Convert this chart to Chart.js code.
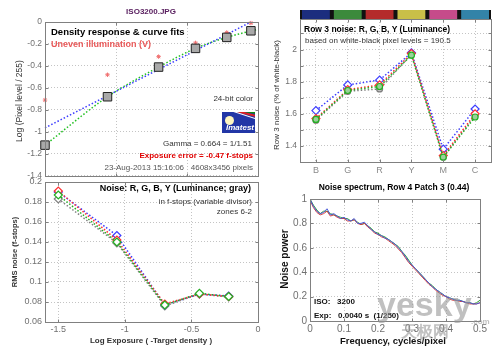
<!DOCTYPE html>
<html>
<head>
<meta charset="utf-8">
<script src="https://cdn.jsdelivr.net/npm/chart.js@4.4.0/dist/chart.umd.min.js"></script>
<style>
  body { margin: 0; background: #fff; }
  #fig { position: relative; width: 500px; height: 353px; overflow: hidden; font-family: "Liberation Sans", Arial, sans-serif; background: #fff; }
  #fig canvas { position: absolute; }
  .t { position: absolute; white-space: pre; line-height: 1; color: #333; }
  .b { font-weight: bold; }
  .c { transform: translateX(-50%); }
  .rot { transform: translate(-50%, -50%) rotate(-90deg); }
  #logo { position: absolute; left: 222px; top: 112px; width: 33px; height: 21px; background: #2236a6; overflow: hidden; }
  #logo .sun { position: absolute; left: 3px; top: 4px; width: 9px; height: 9px; border-radius: 50%; background: #fff6c0; }
  #logo .g { position: absolute; left: 8px; top: -6px; width: 40px; height: 7px; background: #108a10; transform: rotate(8deg); }
  #logo .rd { position: absolute; left: 10px; top: 2px; width: 40px; height: 2px; background: #e02020; transform: rotate(14deg); }
  #logo .w { position: absolute; left: 10px; top: 5px; width: 40px; height: 1px; background: #fff; transform: rotate(18deg); }
  #logo .txt { position: absolute; right: 1px; bottom: 1px; font: italic bold 8px "Liberation Sans", Arial, sans-serif; color: #fff; }
  .wm { position: absolute; white-space: pre; line-height: 1; color: rgba(150,150,150,0.6); font-weight: bold; }
</style>
</head>
<body>
<div id="fig">
  <canvas id="c1" width="270" height="184" style="left:0;top:0"></canvas>
  <canvas id="c2" width="238" height="180" style="left:262px;top:0"></canvas>
  <canvas id="c3" width="270" height="181" style="left:0;top:172px"></canvas>
  <canvas id="c4" width="238" height="173" style="left:262px;top:180px"></canvas>

  <div class="t b c" style="left:151px;top:8px;font-size:8px;color:#5a2060">ISO3200.JPG</div>

  <div class="t b" style="left:51px;top:27px;font-size:9.5px;color:#000">Density response &amp; curve fits</div>
  <div class="t b" style="left:51px;top:40px;font-size:9px;color:#e85858">Uneven illumination (V)</div>
  <div class="t" style="right:247px;top:95px;font-size:8px">24-bit color</div>
  <div id="logo"><div class="g"></div><div class="rd"></div><div class="w"></div><div class="sun"></div><div class="txt">Imatest</div></div>
  <div class="t" style="right:248px;top:140px;font-size:8px">Gamma = 0.664 = 1/1.51</div>
  <div class="t b" style="right:247px;top:152px;font-size:8px;color:#e00000">Exposure error = -0.47 f-stops</div>
  <div class="t" style="right:247px;top:164px;font-size:8px;color:#555">23-Aug-2013 15:16:06   4608x3456 pixels</div>
  <div class="t rot" style="left:19px;top:101px;font-size:8.5px">Log (Pixel level / 255)</div>

  <div class="t b" style="left:304px;top:25px;font-size:8.5px;color:#000">Row 3 noise: R, G, B, Y (Luminance)</div>
  <div class="t" style="left:305px;top:37px;font-size:8px">based on white-black pixel levels = 190.5</div>
  <div class="t rot" style="left:277px;top:95px;font-size:8px">Row 3 noise (% of white-black)</div>

  <div class="t b" style="right:249px;top:184px;font-size:9px;color:#000">Noise: R, G, B, Y (Luminance; gray)</div>
  <div class="t" style="right:248px;top:198px;font-size:8px">in f-stops (variable divisor)</div>
  <div class="t" style="right:248px;top:208px;font-size:8px">zones 6-2</div>
  <div class="t b rot" style="left:15px;top:252px;font-size:7.5px">RMS noise (f-stops)</div>
  <div class="t b c" style="left:151px;top:337px;font-size:8px">Log Exposure ( -Target density )</div>

  <div class="t b c" style="left:394px;top:183px;font-size:8.5px;color:#000">Noise spectrum, Row 4 Patch 3 (0.44)</div>
  <div class="t b rot" style="left:285px;top:259px;font-size:10px;color:#111">Noise power</div>
  <div class="t b c" style="left:393px;top:336px;font-size:9.5px;color:#111">Frequency, cycles/pixel</div>
  <div class="t b" style="left:314px;top:298px;font-size:8px;color:#111">ISO:   3200</div>
  <div class="t b" style="left:314px;top:312px;font-size:8px;color:#111">Exp:   0.0040 s  (1/250)</div>

  <div class="wm" style="left:377px;top:287px;font-size:34px">yesky</div>
  <div class="wm" style="left:401px;top:324px;font-size:16px">天极网</div>
  <div class="wm" style="left:471px;top:318px;font-size:8px">.com</div>
</div>

<script>
// density response (top left)
const densityLogExp = [-1.5, -1.06, -0.70, -0.44, -0.22, -0.05];
const densityPixel = [-1.12, -0.68, -0.41, -0.24, -0.14, -0.08];
const unevenPixel = [-0.71, -0.48, -0.315, -0.19, -0.095, -0.01];
const gammaFitExp = [-1.5, -0.05];
const gammaFitPixel = [-0.963, 0];
const curveFitExp = [-1.5, -1.06, -0.70, -0.44, -0.22, 0];
const curveFitPixel = [-1.12, -0.68, -0.41, -0.24, -0.14, -0.065];
const densityXTicks = [-1.5, -1, -0.5, 0];
const densityYTicks = [-1.4, -1.2, -1, -0.8, -0.6, -0.4, -0.2, 0];

// row 3 noise (top right)
const rowPatches = ['B', 'G', 'R', 'Y', 'M', 'C'];
const rowBarColors = ['#1c2d7e', '#3c8a3c', '#b42b2b', '#c9bf48', '#c64b8a', '#3383a8'];
const rowNoiseR = [1.57, 1.75, 1.78, 1.975, 1.34, 1.60];
const rowNoiseG = [1.565, 1.745, 1.77, 1.965, 1.33, 1.58];
const rowNoiseB = [1.62, 1.78, 1.81, 1.98, 1.38, 1.63];
const rowNoiseY = [1.56, 1.74, 1.755, 1.97, 1.33, 1.59];
const rowNoiseTicks = [1.4, 1.5, 1.6, 1.7, 1.8, 1.9, 2.0, 2.1];

// noise vs exposure (bottom left)
const zoneLogExp = [-1.5, -1.06, -0.70, -0.44, -0.22];
const zoneNoiseR = [0.191, 0.142, 0.078, 0.088, 0.0855];
const zoneNoiseG = [0.187, 0.140, 0.077, 0.0887, 0.0855];
const zoneNoiseB = [0.190, 0.1465, 0.077, 0.088, 0.086];
const zoneNoiseY = [0.183, 0.139, 0.076, 0.088, 0.085];
const zoneXTicks = [-1.5, -1, -0.5, 0];
const zoneYTicks = [0.06, 0.08, 0.1, 0.12, 0.14, 0.16, 0.18, 0.2];

// noise spectrum (bottom right)
const specFreq = [0, 0.01, 0.02, 0.03, 0.04, 0.05, 0.06, 0.07, 0.08, 0.09,
  0.10, 0.11, 0.12, 0.13, 0.14, 0.15, 0.16, 0.17, 0.18, 0.19,
  0.20, 0.21, 0.22, 0.23, 0.24, 0.25, 0.26, 0.27, 0.28, 0.29,
  0.30, 0.31, 0.32, 0.33, 0.34, 0.35, 0.36, 0.37, 0.38, 0.39,
  0.40, 0.41, 0.42, 0.43, 0.44, 0.45, 0.46, 0.47, 0.48, 0.49, 0.50];
const specB = [1.00, 0.94, 0.90, 0.88, 0.89, 0.92, 0.87, 0.88, 0.86, 0.84,
  0.85, 0.83, 0.82, 0.84, 0.80, 0.80, 0.81, 0.78, 0.75, 0.73,
  0.71, 0.70, 0.68, 0.67, 0.65, 0.63, 0.60, 0.57, 0.53, 0.49,
  0.46, 0.43, 0.40, 0.37, 0.34, 0.31, 0.28, 0.26, 0.24, 0.22,
  0.20, 0.19, 0.18, 0.17, 0.17, 0.16, 0.15, 0.15, 0.14, 0.14, 0.15];
const specR = [0.99, 0.93, 0.89, 0.87, 0.88, 0.90, 0.86, 0.87, 0.85, 0.84,
  0.84, 0.82, 0.82, 0.83, 0.80, 0.79, 0.80, 0.77, 0.75, 0.72,
  0.71, 0.69, 0.68, 0.66, 0.64, 0.62, 0.59, 0.56, 0.52, 0.48,
  0.45, 0.42, 0.39, 0.36, 0.33, 0.30, 0.28, 0.25, 0.23, 0.21,
  0.20, 0.18, 0.17, 0.17, 0.16, 0.16, 0.15, 0.14, 0.14, 0.14, 0.15];
const specG = [1.00, 0.95, 0.91, 0.88, 0.90, 0.90, 0.88, 0.87, 0.86, 0.85,
  0.84, 0.84, 0.82, 0.83, 0.81, 0.79, 0.80, 0.78, 0.76, 0.73,
  0.72, 0.70, 0.69, 0.67, 0.65, 0.63, 0.61, 0.57, 0.54, 0.50,
  0.46, 0.43, 0.40, 0.37, 0.34, 0.31, 0.29, 0.26, 0.24, 0.22,
  0.20, 0.19, 0.18, 0.17, 0.17, 0.16, 0.15, 0.15, 0.14, 0.15, 0.17];
const specXTicks = [0, 0.1, 0.2, 0.3, 0.4, 0.5];
const specYTicks = [0, 0.2, 0.4, 0.6, 0.8, 1];

Chart.defaults.font.family = '"Liberation Sans", Arial, sans-serif';
Chart.defaults.font.size = 8.5;
Chart.defaults.color = '#707070';
Chart.defaults.animation = false;
Chart.defaults.responsive = false;
Chart.defaults.plugins.legend.display = false;
Chart.defaults.plugins.tooltip.enabled = false;

const pts = (xs, ys) => xs.map((x, i) => ({ x, y: ys[i] }));
const fmt = v => String(+v.toFixed(2));
const DOT = [1.5, 2];

// box round the plot area, with small inward ticks
const framePlugin = {
  id: 'frame',
  afterDraw(chart) {
    const { ctx, chartArea: a, scales } = chart;
    const L = Math.round(a.left) + 0.5, R = Math.round(a.right) + 0.5;
    const T = Math.round(a.top) + 0.5, B = Math.round(a.bottom) + 0.5;
    ctx.save();
    ctx.strokeStyle = '#808080';
    ctx.lineWidth = 1;
    ctx.strokeRect(L, T, R - L, B - T);
    ctx.beginPath();
    scales.x.ticks.forEach((t, i) => {
      const px = Math.round(scales.x.getPixelForTick(i)) + 0.5;
      ctx.moveTo(px, B); ctx.lineTo(px, B - 3);
      ctx.moveTo(px, T); ctx.lineTo(px, T + 3);
    });
    scales.y.ticks.forEach((t, i) => {
      const py = Math.round(scales.y.getPixelForTick(i)) + 0.5;
      ctx.moveTo(L, py); ctx.lineTo(L + 3, py);
      ctx.moveTo(R, py); ctx.lineTo(R - 3, py);
    });
    ctx.stroke();
    ctx.restore();
  }
};

// patch colour strip above the row noise plot
const colorBarPlugin = {
  id: 'colorBar',
  afterDraw(chart) {
    const { ctx, chartArea: a, scales } = chart;
    const w = (a.right - a.left) / rowPatches.length;
    ctx.save();
    ctx.fillStyle = '#111';
    ctx.fillRect(a.left, a.top - 9, a.right - a.left, 9);
    rowPatches.forEach((p, i) => {
      const cx = scales.x.getPixelForTick(i);
      ctx.fillStyle = rowBarColors[i];
      ctx.fillRect(cx - w / 2 + 2, a.top - 9, w - 4, 9);
    });
    ctx.restore();
  }
};

function linAxis(min, max, ticks, opts) {
  return {
    type: 'linear', min, max,
    afterBuildTicks: s => { s.ticks = ticks.map(v => ({ value: v })); },
    afterFit: opts.fit,
    grid: { color: '#c4c4c4', drawTicks: false },
    border: { display: false, dash: [1, 2] },
    ticks: Object.assign({ padding: 3, autoSkip: false, maxRotation: 0, callback: fmt }, opts.ticks || {})
  };
}

const dotted = (color, data, extra) => Object.assign({
  data, showLine: true, borderColor: color, borderWidth: 1.5, borderDash: DOT,
  pointRadius: 0, clip: false
}, extra || {});

// top left: density response
new Chart(document.getElementById('c1'), {
  type: 'scatter',
  data: {
    datasets: [
      { data: pts(densityLogExp, densityPixel), pointStyle: 'rect', pointRadius: 6,
        backgroundColor: '#a9a9a9', borderColor: '#222', borderWidth: 1, clip: false },
      { data: pts(densityLogExp, unevenPixel), pointStyle: 'star', pointRadius: 2.2,
        borderColor: '#f07070', borderWidth: 1, clip: false },
      dotted('#3c3cff', pts(gammaFitExp, gammaFitPixel)),
      dotted('#22c022', pts(curveFitExp, curveFitPixel), { tension: 0.4, cubicInterpolationMode: 'monotone' })
    ]
  },
  options: {
    layout: { padding: { top: 22, right: 12, left: 0, bottom: 0 } },
    scales: {
      x: linAxis(-1.5, 0, densityXTicks, { fit: s => { s.height = 8; }, ticks: { display: false } }),
      y: linAxis(-1.4, 0, densityYTicks, { fit: s => { s.width = 45; } })
    }
  },
  plugins: [framePlugin]
});

// top right: row 3 noise
const rowMarker = (color, style, fill) => ({
  borderColor: color, pointBorderColor: color, pointBackgroundColor: fill,
  pointStyle: style, pointRadius: style === 'rectRot' ? 4 : 3, pointBorderWidth: 1.2,
  borderWidth: 1.5, borderDash: DOT, fill: false, clip: false
});
new Chart(document.getElementById('c2'), {
  type: 'line',
  data: {
    labels: rowPatches,
    datasets: [
      Object.assign({ data: rowNoiseG }, rowMarker('#22b022', 'circle', '#9ad09a')),
      Object.assign({ data: rowNoiseR }, rowMarker('#ff3030', 'rectRot', '#ffffff')),
      Object.assign({ data: rowNoiseB }, rowMarker('#3c3cff', 'rectRot', '#ffffff')),
      Object.assign({ data: rowNoiseY }, rowMarker('#808080', 'circle', '#c0c0c0'))
    ]
  },
  options: {
    layout: { padding: { top: 19, right: 9, left: 0, bottom: 0 } },
    scales: {
      x: {
        type: 'category', offset: true,
        afterFit: s => { s.height = 18; },
        grid: { color: '#c4c4c4', drawTicks: false, offset: false },
        border: { display: false, dash: [1, 2] },
        ticks: { padding: 3, font: { size: 9 }, color: '#8a8a8a' }
      },
      y: linAxis(1.3, 2.19, rowNoiseTicks, {
        fit: s => { s.width = 38; },
        ticks: { callback: v => (Math.round(v * 10) % 2 === 0 ? String(+v.toFixed(1)) : '') }
      })
    }
  },
  plugins: [framePlugin, colorBarPlugin]
});

// bottom left: noise vs exposure
const zoneMarker = color => ({
  pointStyle: 'rectRot', pointRadius: 4, pointBorderColor: color, pointBackgroundColor: '#ffffff',
  pointBorderWidth: 1.2
});
new Chart(document.getElementById('c3'), {
  type: 'scatter',
  data: {
    datasets: [
      dotted('#22b022', pts(zoneLogExp, zoneNoiseG), zoneMarker('#22b022')),
      dotted('#ff3030', pts(zoneLogExp, zoneNoiseR), zoneMarker('#ff3030')),
      dotted('#3c3cff', pts(zoneLogExp, zoneNoiseB), zoneMarker('#3c3cff')),
      dotted('#808080', pts(zoneLogExp, zoneNoiseY), zoneMarker('#808080'))
    ]
  },
  options: {
    layout: { padding: { top: 10, right: 12, left: 0, bottom: 0 } },
    scales: {
      x: linAxis(-1.6, 0, zoneXTicks, { fit: s => { s.height = 31; }, ticks: { padding: 2, font: { size: 9 } } }),
      y: linAxis(0.06, 0.2, zoneYTicks, { fit: s => { s.width = 45; }, ticks: { font: { size: 9 } } })
    }
  },
  plugins: [framePlugin]
});

// bottom right: noise spectrum
const specLine = (color, ys) => ({
  data: pts(specFreq, ys), showLine: true, borderColor: color, borderWidth: 1, pointRadius: 0
});
new Chart(document.getElementById('c4'), {
  type: 'scatter',
  data: {
    datasets: [
      specLine('#4a5ad8', specB),
      specLine('#d04040', specR),
      specLine('#30a030', specG)
    ]
  },
  options: {
    layout: { padding: { top: 19, right: 20, left: 0, bottom: 0 } },
    scales: {
      x: linAxis(0, 0.5, specXTicks, { fit: s => { s.height = 32; }, ticks: { padding: 2, font: { size: 10 } } }),
      y: linAxis(0, 1, specYTicks, { fit: s => { s.width = 48; }, ticks: { font: { size: 10 } } })
    }
  },
  plugins: [framePlugin]
});
</script>
</body>
</html>
